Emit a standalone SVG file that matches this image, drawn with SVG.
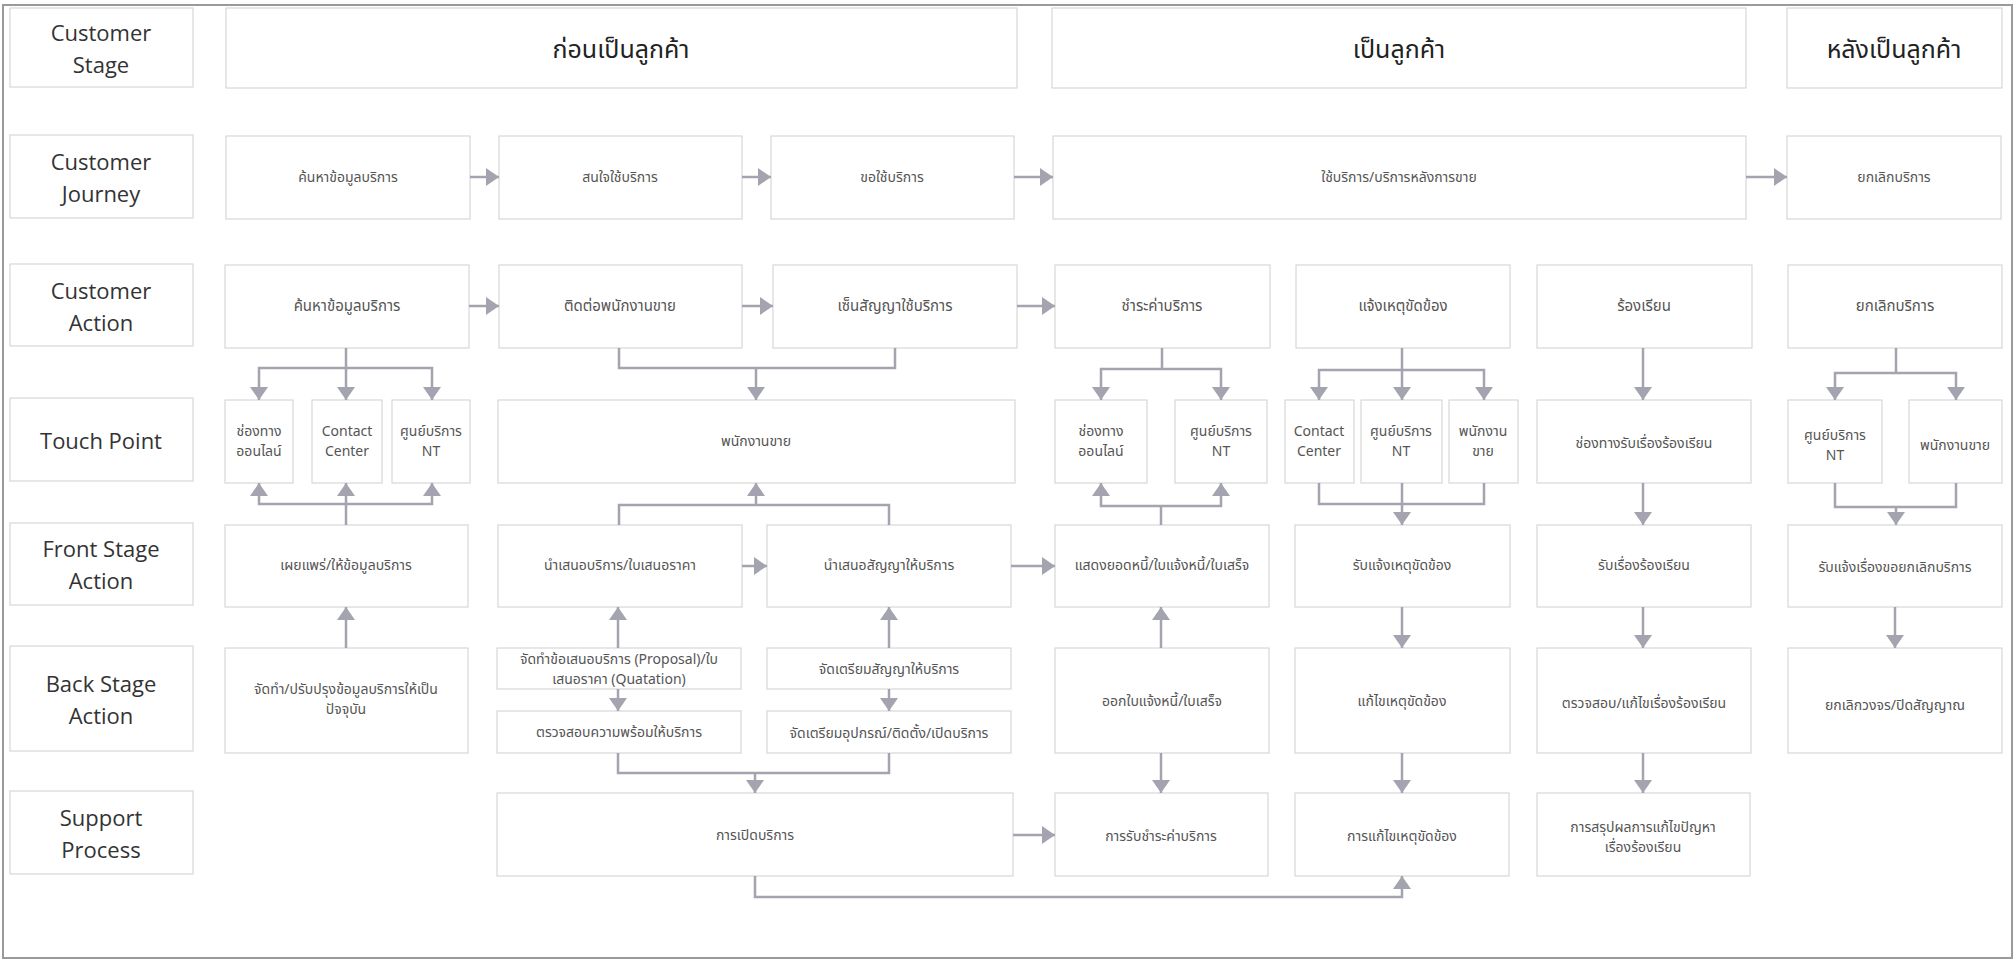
<svg xmlns="http://www.w3.org/2000/svg" width="2016" height="963" viewBox="0 0 2016 963">
<style>
.frame{fill:none;stroke:#9a9a9a;stroke-width:2}
.box{fill:#fff;stroke:#cfcfcf;stroke-width:1}
.lt{font-family:"Open Sans","Noto Sans",sans-serif;font-size:22px;fill:#333;text-anchor:middle;dominant-baseline:central}
.hd{font-family:"Noto Sans Thai","Noto Sans","DejaVu Sans",sans-serif;font-size:25px;fill:#222;text-anchor:middle;dominant-baseline:central}
.t{font-family:"Noto Sans Thai","Noto Sans","DejaVu Sans",sans-serif;font-size:14px;fill:#555;text-anchor:middle;dominant-baseline:central}
.t.m{font-size:15px}
.conn path{fill:none;stroke:#a4a4b1;stroke-width:2.5}
</style>
<defs>
<marker id="ah" viewBox="0 0 13 18" refX="13" refY="9" markerWidth="13" markerHeight="18" markerUnits="userSpaceOnUse" orient="auto-start-reverse"><path d="M0,0 L13,9 L0,18 Z" fill="#a4a4b1"/></marker>
</defs>
<rect x="0" y="0" width="2016" height="963" fill="#fff"/>
<rect class="frame" x="3" y="5" width="2009" height="953"/>

<!-- row labels -->
<g id="lab-stage"><rect class="box" x="10" y="8" width="183" height="79"/><text class="lt" x="101" y="32">Customer</text><text class="lt" x="101" y="64">Stage</text></g>
<g id="lab-journey"><rect class="box" x="10" y="135" width="183" height="83"/><text class="lt" x="101" y="161">Customer</text><text class="lt" x="101" y="193">Journey</text></g>
<g id="lab-action"><rect class="box" x="10" y="264" width="183" height="82"/><text class="lt" x="101" y="290">Customer</text><text class="lt" x="101" y="322">Action</text></g>
<g id="lab-touch"><rect class="box" x="10" y="398" width="183" height="83"/><text class="lt" x="101" y="440">Touch Point</text></g>
<g id="lab-front"><rect class="box" x="10" y="523" width="183" height="82"/><text class="lt" x="101" y="548">Front Stage</text><text class="lt" x="101" y="580">Action</text></g>
<g id="lab-back"><rect class="box" x="10" y="646" width="183" height="105"/><text class="lt" x="101" y="683">Back Stage</text><text class="lt" x="101" y="715">Action</text></g>
<g id="lab-support"><rect class="box" x="10" y="791" width="183" height="83"/><text class="lt" x="101" y="817">Support</text><text class="lt" x="101" y="849">Process</text></g>

<!-- stage headers -->
<g id="h-pre"><rect class="box" x="226" y="8" width="791" height="80"/><text class="hd" x="621" y="50">ก่อนเป็นลูกค้า</text></g>
<g id="h-cur"><rect class="box" x="1052" y="8" width="694" height="80"/><text class="hd" x="1399" y="50">เป็นลูกค้า</text></g>
<g id="h-post"><rect class="box" x="1787" y="8" width="215" height="80"/><text class="hd" x="1894" y="50">หลังเป็นลูกค้า</text></g>

<!-- journey -->
<g id="j1"><rect class="box" x="226" y="136" width="244" height="83"/><text class="t" x="348" y="177">ค้นหาข้อมูลบริการ</text></g>
<g id="j2"><rect class="box" x="499" y="136" width="243" height="83"/><text class="t" x="620" y="177">สนใจใช้บริการ</text></g>
<g id="j3"><rect class="box" x="771" y="136" width="243" height="83"/><text class="t" x="892" y="177">ขอใช้บริการ</text></g>
<g id="j4"><rect class="box" x="1053" y="136" width="693" height="83"/><text class="t" x="1399" y="177">ใช้บริการ/บริการหลังการขาย</text></g>
<g id="j5"><rect class="box" x="1787" y="136" width="214" height="83"/><text class="t" x="1894" y="177">ยกเลิกบริการ</text></g>

<!-- customer action -->
<g id="a1"><rect class="box" x="225" y="265" width="244" height="83"/><text class="t m" x="347" y="306">ค้นหาข้อมูลบริการ</text></g>
<g id="a2"><rect class="box" x="499" y="265" width="243" height="83"/><text class="t m" x="620" y="306">ติดต่อพนักงานขาย</text></g>
<g id="a3"><rect class="box" x="773" y="265" width="244" height="83"/><text class="t m" x="895" y="306">เซ็นสัญญาใช้บริการ</text></g>
<g id="a4"><rect class="box" x="1055" y="265" width="215" height="83"/><text class="t m" x="1162" y="306">ชำระค่าบริการ</text></g>
<g id="a5"><rect class="box" x="1296" y="265" width="214" height="83"/><text class="t m" x="1403" y="306">แจ้งเหตุขัดข้อง</text></g>
<g id="a6"><rect class="box" x="1537" y="265" width="215" height="83"/><text class="t m" x="1644" y="306">ร้องเรียน</text></g>
<g id="a7"><rect class="box" x="1788" y="265" width="214" height="83"/><text class="t m" x="1895" y="306">ยกเลิกบริการ</text></g>

<!-- touch points -->
<g id="t1"><rect class="box" x="225" y="400" width="68" height="83"/><text class="t" x="259" y="431">ช่องทาง</text><text class="t" x="259" y="451">ออนไลน์</text></g>
<g id="t2"><rect class="box" x="312" y="400" width="70" height="83"/><text class="t" x="347" y="431">Contact</text><text class="t" x="347" y="451">Center</text></g>
<g id="t3"><rect class="box" x="392" y="400" width="78" height="83"/><text class="t" x="431" y="431">ศูนย์บริการ</text><text class="t" x="431" y="451">NT</text></g>
<g id="t4"><rect class="box" x="498" y="400" width="517" height="83"/><text class="t" x="756" y="441">พนักงานขาย</text></g>
<g id="t5"><rect class="box" x="1055" y="400" width="92" height="83"/><text class="t" x="1101" y="431">ช่องทาง</text><text class="t" x="1101" y="451">ออนไลน์</text></g>
<g id="t6"><rect class="box" x="1175" y="400" width="92" height="83"/><text class="t" x="1221" y="431">ศูนย์บริการ</text><text class="t" x="1221" y="451">NT</text></g>
<g id="t7"><rect class="box" x="1285" y="400" width="69" height="83"/><text class="t" x="1319" y="431">Contact</text><text class="t" x="1319" y="451">Center</text></g>
<g id="t8"><rect class="box" x="1361" y="400" width="81" height="83"/><text class="t" x="1401" y="431">ศูนย์บริการ</text><text class="t" x="1401" y="451">NT</text></g>
<g id="t9"><rect class="box" x="1449" y="400" width="69" height="83"/><text class="t" x="1483" y="431">พนักงาน</text><text class="t" x="1483" y="451">ขาย</text></g>
<g id="t10"><rect class="box" x="1537" y="400" width="214" height="83"/><text class="t" x="1644" y="443">ช่องทางรับเรื่องร้องเรียน</text></g>
<g id="t11"><rect class="box" x="1788" y="400" width="94" height="83"/><text class="t" x="1835" y="435">ศูนย์บริการ</text><text class="t" x="1835" y="455">NT</text></g>
<g id="t12"><rect class="box" x="1909" y="400" width="93" height="83"/><text class="t" x="1955" y="445">พนักงานขาย</text></g>

<!-- front stage -->
<g id="f1"><rect class="box" x="225" y="525" width="243" height="82"/><text class="t" x="346" y="565">เผยแพร่/ให้ข้อมูลบริการ</text></g>
<g id="f2"><rect class="box" x="498" y="525" width="244" height="82"/><text class="t" x="620" y="565">นำเสนอบริการ/ใบเสนอราคา</text></g>
<g id="f3"><rect class="box" x="767" y="525" width="244" height="82"/><text class="t" x="889" y="565">นำเสนอสัญญาให้บริการ</text></g>
<g id="f4"><rect class="box" x="1055" y="525" width="214" height="82"/><text class="t" x="1162" y="565">แสดงยอดหนี้/ใบแจ้งหนี้/ใบเสร็จ</text></g>
<g id="f5"><rect class="box" x="1295" y="525" width="215" height="82"/><text class="t" x="1402" y="565">รับแจ้งเหตุขัดข้อง</text></g>
<g id="f6"><rect class="box" x="1537" y="525" width="214" height="82"/><text class="t" x="1644" y="565">รับเรื่องร้องเรียน</text></g>
<g id="f7"><rect class="box" x="1788" y="525" width="214" height="82"/><text class="t" x="1895" y="567">รับแจ้งเรื่องขอยกเลิกบริการ</text></g>

<!-- back stage -->
<g id="b1"><rect class="box" x="225" y="648" width="243" height="105"/><text class="t" x="346" y="689">จัดทำ/ปรับปรุงข้อมูลบริการให้เป็น</text><text class="t" x="346" y="709">ปัจจุบัน</text></g>
<g id="b2a"><rect class="box" x="497" y="648" width="244" height="41"/><text class="t" x="619" y="659">จัดทำข้อเสนอบริการ (Proposal)/ใบ</text><text class="t" x="619" y="679">เสนอราคา (Quatation)</text></g>
<g id="b2b"><rect class="box" x="497" y="711" width="244" height="42"/><text class="t" x="619" y="732">ตรวจสอบความพร้อมให้บริการ</text></g>
<g id="b3a"><rect class="box" x="767" y="648" width="244" height="41"/><text class="t" x="889" y="669">จัดเตรียมสัญญาให้บริการ</text></g>
<g id="b3b"><rect class="box" x="767" y="711" width="244" height="42"/><text class="t" x="889" y="733">จัดเตรียมอุปกรณ์/ติดตั้ง/เปิดบริการ</text></g>
<g id="b4"><rect class="box" x="1055" y="648" width="214" height="105"/><text class="t" x="1162" y="701">ออกใบแจ้งหนี้/ใบเสร็จ</text></g>
<g id="b5"><rect class="box" x="1295" y="648" width="215" height="105"/><text class="t" x="1402" y="701">แก้ไขเหตุขัดข้อง</text></g>
<g id="b6"><rect class="box" x="1537" y="648" width="214" height="105"/><text class="t" x="1644" y="703">ตรวจสอบ/แก้ไขเรื่องร้องเรียน</text></g>
<g id="b7"><rect class="box" x="1788" y="648" width="214" height="105"/><text class="t" x="1895" y="705">ยกเลิกวงจร/ปิดสัญญาณ</text></g>

<!-- support -->
<g id="s1"><rect class="box" x="497" y="793" width="516" height="83"/><text class="t" x="755" y="835">การเปิดบริการ</text></g>
<g id="s2"><rect class="box" x="1055" y="793" width="213" height="83"/><text class="t" x="1161" y="836">การรับชำระค่าบริการ</text></g>
<g id="s3"><rect class="box" x="1295" y="793" width="214" height="83"/><text class="t" x="1402" y="836">การแก้ไขเหตุขัดข้อง</text></g>
<g id="s4"><rect class="box" x="1537" y="793" width="213" height="83"/><text class="t" x="1643" y="827">การสรุปผลการแก้ไขปัญหา</text><text class="t" x="1643" y="847">เรื่องร้องเรียน</text></g>

<g id="connectors" class="conn">
<path d="M470,177 H499" marker-end="url(#ah)"/>
<path d="M742,177 H771" marker-end="url(#ah)"/>
<path d="M1014,177 H1053" marker-end="url(#ah)"/>
<path d="M1746,177 H1787" marker-end="url(#ah)"/>
<path d="M469,306 H499" marker-end="url(#ah)"/>
<path d="M742,306 H773" marker-end="url(#ah)"/>
<path d="M1017,306 H1055" marker-end="url(#ah)"/>
<path d="M742,566 H767" marker-end="url(#ah)"/>
<path d="M1011,566 H1055" marker-end="url(#ah)"/>
<path d="M1013,835 H1055" marker-end="url(#ah)"/>

<path d="M346,348 V400" marker-end="url(#ah)"/>
<path d="M259,400 V368 H432 V400" marker-start="url(#ah)" marker-end="url(#ah)"/>
<path d="M346,525 V483" marker-end="url(#ah)"/>
<path d="M259,483 V504 H432 V483" marker-start="url(#ah)" marker-end="url(#ah)"/>
<path d="M346,648 V607" marker-end="url(#ah)"/>

<path d="M619,348 V368 H895 V348"/>
<path d="M756,368 V400" marker-end="url(#ah)"/>
<path d="M619,525 V505 H889 V525"/>
<path d="M756,505 V483" marker-end="url(#ah)"/>
<path d="M618,648 V607" marker-end="url(#ah)"/>
<path d="M889,648 V607" marker-end="url(#ah)"/>
<path d="M618,689 V711" marker-end="url(#ah)"/>
<path d="M889,689 V711" marker-end="url(#ah)"/>
<path d="M618,753 V773 H889 V753"/>
<path d="M755,773 V793" marker-end="url(#ah)"/>
<path d="M755,876 V897 H1402 V876" marker-end="url(#ah)"/>

<path d="M1162,348 V369"/>
<path d="M1101,400 V369 H1221 V400" marker-start="url(#ah)" marker-end="url(#ah)"/>
<path d="M1161,525 V506"/>
<path d="M1101,483 V506 H1221 V483" marker-start="url(#ah)" marker-end="url(#ah)"/>
<path d="M1161,648 V607" marker-end="url(#ah)"/>
<path d="M1161,753 V793" marker-end="url(#ah)"/>

<path d="M1402,348 V400" marker-end="url(#ah)"/>
<path d="M1319,400 V370 H1484 V400" marker-start="url(#ah)" marker-end="url(#ah)"/>
<path d="M1319,483 V504 H1484 V483"/>
<path d="M1402,483 V525" marker-end="url(#ah)"/>
<path d="M1402,607 V648" marker-end="url(#ah)"/>
<path d="M1402,753 V793" marker-end="url(#ah)"/>

<path d="M1643,348 V400" marker-end="url(#ah)"/>
<path d="M1643,483 V525" marker-end="url(#ah)"/>
<path d="M1643,607 V648" marker-end="url(#ah)"/>
<path d="M1643,753 V793" marker-end="url(#ah)"/>

<path d="M1896,348 V373"/>
<path d="M1835,400 V373 H1956 V400" marker-start="url(#ah)" marker-end="url(#ah)"/>
<path d="M1835,483 V507 H1956 V483"/>
<path d="M1896,507 V525" marker-end="url(#ah)"/>
<path d="M1895,607 V648" marker-end="url(#ah)"/>
</g>
</svg>
